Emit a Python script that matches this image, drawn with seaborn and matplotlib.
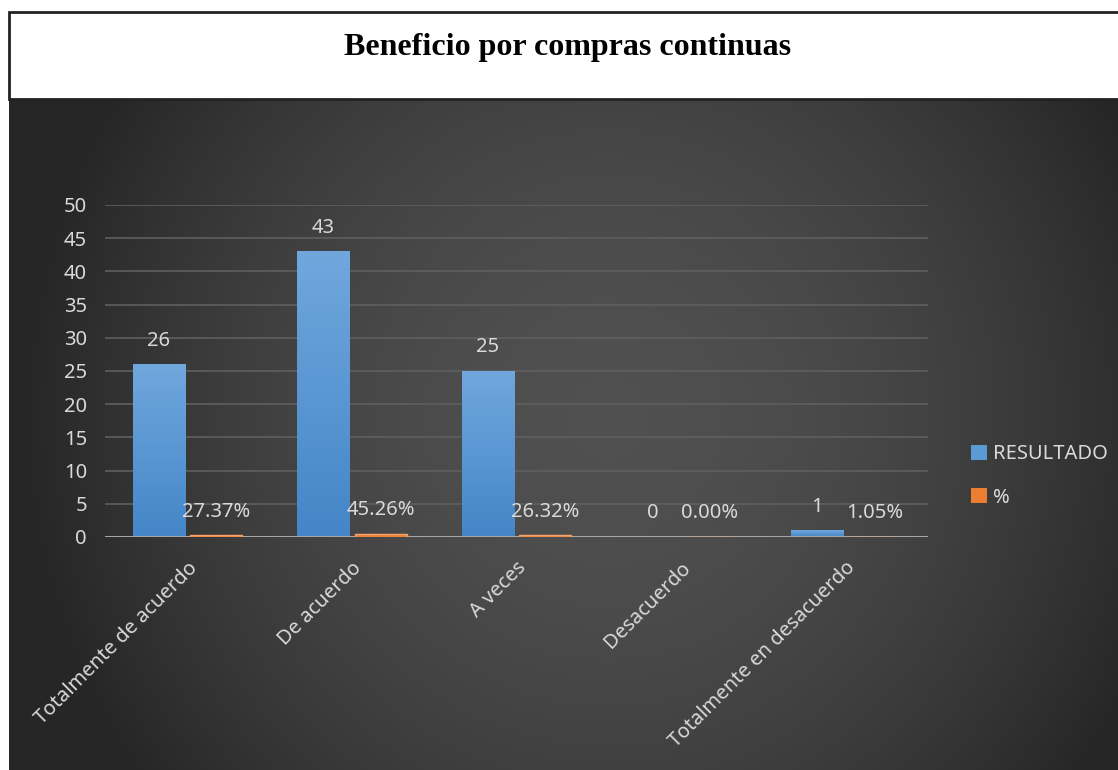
import numpy as np
import pandas as pd
import matplotlib
matplotlib.use("Agg")
import matplotlib.pyplot as plt
from matplotlib.patches import Rectangle, Patch
import seaborn as sns

# Survey answers and their counts / shares
categorias = ["Totalmente de acuerdo", "De acuerdo", "A veces", "Desacuerdo",
              "Totalmente en desacuerdo"]
resultado = [26, 43, 25, 0, 1]
porcentaje = [0.2737, 0.4526, 0.2632, 0.0, 0.0105]
series = ["RESULTADO", "%"]
titulo = "Beneficio por compras continuas"
yticks = [0, 5, 10, 15, 20, 25, 30, 35, 40, 45, 50]

df = pd.DataFrame({
    "categoria": categorias * 2,
    "serie": [series[0]] * len(categorias) + [series[1]] * len(categorias),
    "valor": resultado + porcentaje,
})

sns.set_theme(style="dark")
plt.rcParams["font.family"] = ["Noto Sans", "DejaVu Sans"]

W, H = 1118, 770
fig = plt.figure(figsize=(W / 100, H / 100), dpi=100)
fig.patch.set_facecolor("white")

# Dark radial-gradient backdrop of the chart area
bg = fig.add_axes([9 / W, 0, 1 - 9 / W, (H - 99) / H], zorder=0)
gx, gy = np.meshgrid(np.linspace(-1, 1, 600), np.linspace(-1, 1, 400))
r = np.sqrt(((gx - 0.08) / 1.0) ** 2 + ((gy + 0.05) / 1.7) ** 2)
shade = np.clip(0.315 - 0.15 * r ** 1.8, 0.15, 0.33)
bg.imshow(np.dstack([shade] * 3), aspect="auto", extent=[0, 1, 0, 1],
          interpolation="bilinear")
bg.set_axis_off()

# Title box
fig.patches.append(Rectangle((9 / W, (H - 99) / H), 1.0, 87 / H,
                             transform=fig.transFigure, facecolor="white",
                             edgecolor="#222222", linewidth=2.0, zorder=1))
fig.text(568 / W, 1 - 48 / H, titulo, ha="center", va="center",
         fontsize=23, fontweight="bold", family="Liberation Serif", color="black",
         zorder=2)

ax = fig.add_axes([105 / W, 1 - 537 / H, (928 - 105) / W, (537 - 205) / H],
                  zorder=3)
ax.set_facecolor("none")

blue = "#5b9bd5"
orange = "#ed7d31"
sns.barplot(data=df, x="categoria", y="valor", hue="serie", order=categorias,
            hue_order=series, palette=[blue, orange], width=0.696, gap=0.092,
            ax=ax, legend=False, linewidth=0, saturation=1)

ax.set_xlim(-0.5, 4.5)
ax.set_ylim(0, 50)
ax.set_yticks(yticks)
ax.set_xlabel("")
ax.set_ylabel("")
ax.yaxis.grid(True, color="#5f5f5f", linewidth=1.2)
ax.xaxis.grid(False)
for s in ax.spines.values():
    s.set_visible(False)
ax.axhline(0, color="#a6a6a6", linewidth=2.2, zorder=5)

txt = "#d9d9d9"
fs = 14.5
ax.tick_params(axis="y", colors=txt, labelsize=fs, length=0, pad=13)
ax.tick_params(axis="x", colors=txt, labelsize=fs, length=0, pad=15)
plt.setp(ax.get_xticklabels(), rotation=45, ha="right", rotation_mode="anchor")

# Vertical gradient fill on the count bars; thin share bars stay flat
top = np.array([0x70, 0xa7, 0xdd]) / 255
bot = np.array([0x44, 0x86, 0xc8]) / 255
t = np.linspace(0, 1, 64)[:, None]
img = (top[None, :] * (1 - t) + bot[None, :] * t)[:, None, :]
for bar in ax.containers[0]:
    h = bar.get_height()
    if h <= 0:
        continue
    x0 = bar.get_x()
    w = bar.get_width()
    im = ax.imshow(img, extent=[x0, x0 + w, 0, h], aspect="auto",
                   zorder=4, interpolation="bilinear")
    im.set_clip_path(Rectangle((x0, 0), w, h, transform=ax.transData))
    bar.set_visible(False)
for bar in ax.containers[1]:
    bar.set_zorder(6)
    bar.set_edgecolor("#f4a36e")
    bar.set_linewidth(1.0)
ax.set_xlim(-0.5, 4.5)
ax.set_ylim(0, 50)

# Value labels
for cont, vals, fmt in zip(ax.containers, [resultado, porcentaje],
                           [lambda v: f"{v:.0f}", lambda v: f"{v * 100:.2f}%"]):
    for bar, v in zip(cont, vals):
        ax.annotate(fmt(v), (bar.get_x() + bar.get_width() / 2, bar.get_height()),
                    xytext=(0, 17), textcoords="offset points", ha="center",
                    va="center", fontsize=fs, color=txt, zorder=6,
                    annotation_clip=False)

handles = [Patch(facecolor=blue, edgecolor="none"),
           Patch(facecolor=orange, edgecolor="none")]
leg = fig.legend(handles, series, loc="center left",
                 bbox_to_anchor=(953 / W, 1 - 476 / H), frameon=False,
                 fontsize=fs, labelcolor=txt, handlelength=0.8,
                 handleheight=0.8, handletextpad=0.3, labelspacing=1.15)

fig.savefig("out.png", dpi=100)
